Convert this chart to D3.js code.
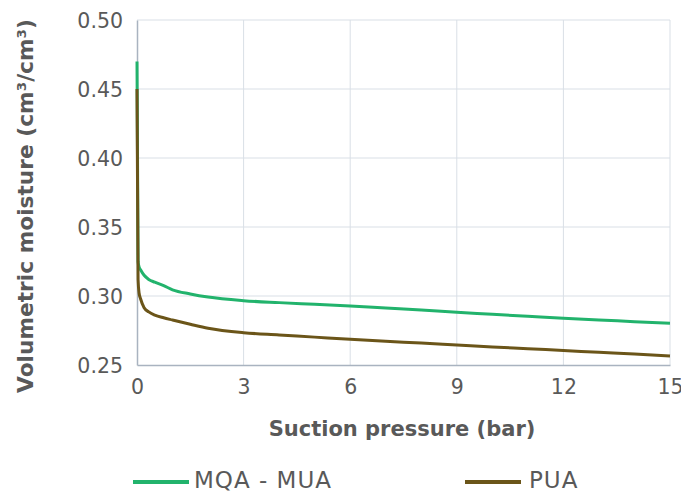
<!DOCTYPE html>
<html><head><meta charset="utf-8">
<script src="https://cdn.jsdelivr.net/npm/d3@7"></script>
<style>body{margin:0;background:#fff}svg{display:block;font-family:"DejaVu Sans",Verdana,sans-serif}</style>
</head><body><svg id="c" width="681" height="494"></svg>
<script>
const suction = [0, 0.03, 0.06, 0.1, 0.2, 0.33, 0.5, 0.75, 1, 1.5, 2, 3, 4, 5, 6, 7, 8, 9, 10, 11, 12, 13, 14, 15];
const mqaMua = [0.470, 0.325, 0.321, 0.319, 0.315, 0.312, 0.310, 0.3075, 0.3045, 0.3015, 0.2992, 0.2966, 0.2952, 0.2940, 0.2928, 0.2913, 0.2898, 0.2882, 0.2868, 0.2853, 0.2838, 0.2826, 0.2814, 0.2802];
const pua = [0.450, 0.312, 0.302, 0.298, 0.2915, 0.2885, 0.2862, 0.2842, 0.2826, 0.2795, 0.2766, 0.2734, 0.2718, 0.2702, 0.2686, 0.2672, 0.2659, 0.2645, 0.2631, 0.2618, 0.2605, 0.2592, 0.2579, 0.2565];
const xTicks = [0, 3, 6, 9, 12, 15];
const yTicks = [0.25, 0.30, 0.35, 0.40, 0.45, 0.50];
const seriesNames = ["MQA - MUA", "PUA"];
const seriesColors = ["#22B36C", "#6B5519"];

const svg = d3.select("#c");
const L = 137, R = 670, T = 20, B = 365;
const x = d3.scaleLinear().domain([0, 15]).range([L, R]);
const y = d3.scaleLinear().domain([0.25, 0.50]).range([B, T]);

// grid
svg.append("g").selectAll("line").data(yTicks.slice(1)).join("line")
  .attr("x1", L).attr("x2", R).attr("y1", d => y(d)).attr("y2", d => y(d))
  .attr("stroke", "#D9DFE6").attr("stroke-width", 1);
svg.append("g").selectAll("line").data(xTicks.slice(1)).join("line")
  .attr("x1", d => x(d)).attr("x2", d => x(d)).attr("y1", T).attr("y2", B)
  .attr("stroke", "#D9DFE6").attr("stroke-width", 1);

// axes
const xAxis = svg.append("g").attr("transform", `translate(0,${B})`)
  .call(d3.axisBottom(x).tickValues(xTicks).tickSize(0).tickPadding(14).tickFormat(d3.format("d")));
const yAxis = svg.append("g").attr("transform", `translate(${L},0)`)
  .call(d3.axisLeft(y).tickValues(yTicks).tickSize(0).tickPadding(14).tickFormat(d3.format(".2f")));
[xAxis, yAxis].forEach(a => {
  a.select(".domain").attr("stroke", "#A9B3C0").attr("stroke-width", 1.5);
  a.selectAll("text").attr("font-size", 20.5).attr("fill", "#595959").attr("font-family", "DejaVu Sans");
});
xAxis.selectAll("text").attr("dy", "0.71em");
yAxis.selectAll("text").attr("dy", "0.35em");

// lines
const series = [mqaMua, pua];
const line = d3.line().x((d, i) => x(suction[i])).y(d => y(d)).curve(d3.curveMonotoneX);
svg.append("g").selectAll("path").data(series).join("path")
  .attr("d", d => line(d)).attr("fill", "none")
  .attr("stroke", (d, i) => seriesColors[i]).attr("stroke-width", 3).attr("stroke-linejoin", "round");

// titles
svg.append("text").attr("x", 402).attr("y", 436).attr("text-anchor", "middle")
  .attr("font-size", 21).attr("font-weight", "bold").attr("fill", "#595959")
  .text("Suction pressure (bar)");
svg.append("text").attr("transform", `translate(33,206) rotate(-90)`).attr("text-anchor", "middle")
  .attr("font-size", 21.7).attr("font-weight", "bold").attr("fill", "#595959")
  .text("Volumetric moisture (cm³/cm³)");

// legend
const legX = [133, 465];
const lg = svg.append("g").selectAll("g").data(seriesNames).join("g")
  .attr("transform", (d, i) => `translate(${legX[i]},482)`);
lg.append("line").attr("x1", 0).attr("x2", 56).attr("stroke", (d, i) => seriesColors[i]).attr("stroke-width", 4);
lg.append("text").attr("x", (d, i) => i === 0 ? 61 : 64).attr("y", 6).attr("font-size", 23)
  .attr("letter-spacing", 1).attr("fill", "#595959").text(d => d);
</script></body></html>
